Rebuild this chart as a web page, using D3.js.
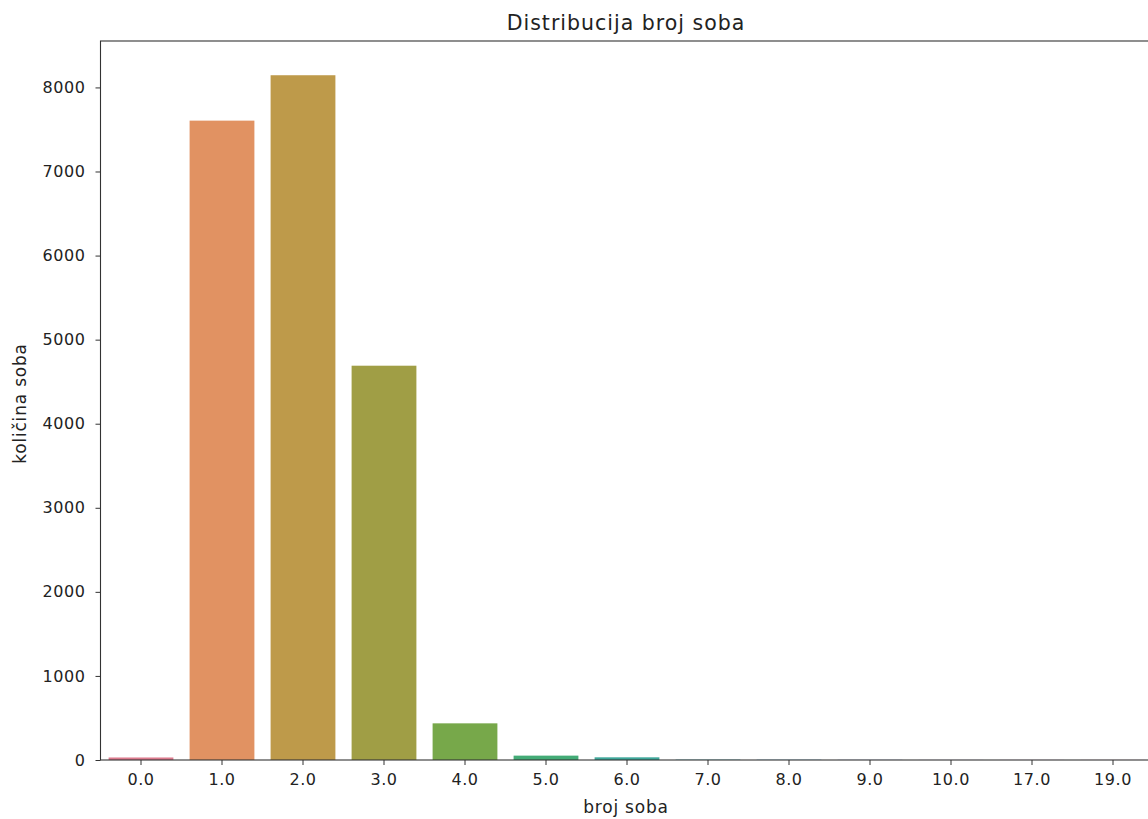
<!DOCTYPE html>
<html>
<head>
<meta charset="utf-8">
<script src="https://cdn.jsdelivr.net/npm/d3@7"></script>
<style>
  html, body { margin: 0; padding: 0; background: #fff; overflow: hidden; }
  svg { display: block; font-family: "DejaVu Sans", sans-serif; }
</style>
</head>
<body>
<svg id="chart" width="1148" height="819"></svg>
<script>
const categories = ["0.0","1.0","2.0","3.0","4.0","5.0","6.0","7.0","8.0","9.0","10.0","17.0","19.0"];
const counts = [30, 7605, 8145, 4690, 436, 52, 32, 4, 3, 2, 1, 1, 1];
const colors = ["#dc7b8e","#e19262","#be9a4a","#a09e45","#77a84a","#43ab76","#3fa79a","#41a5b0","#49a0c6","#7793d6","#a487d7","#c97bcd","#d878ab"];
const yTicks = [0, 1000, 2000, 3000, 4000, 5000, 6000, 7000, 8000];

const svg = d3.select("#chart");
const mLeft = 100.5, mTop = 41, mBottom = 760, mRight = 1153.5;

const x = d3.scaleBand().domain(categories).range([mLeft, mRight]).paddingInner(0.2).paddingOuter(0.1);
const yMax = d3.max(counts) * 1.05;
const y = d3.scaleLinear().domain([0, yMax]).range([mBottom, mTop]);

svg.append("g").selectAll("rect").data(categories).join("rect")
  .attr("x", d => x(d))
  .attr("width", x.bandwidth())
  .attr("y", (d, i) => y(counts[i]))
  .attr("height", (d, i) => mBottom - y(counts[i]))
  .attr("fill", (d, i) => colors[i]);

const xAxis = svg.append("g").attr("transform", `translate(0,${mBottom})`)
  .call(d3.axisBottom(x).tickSize(5).tickPadding(12));
const yAxis = svg.append("g").attr("transform", `translate(${mLeft},0)`)
  .call(d3.axisLeft(y).tickValues(yTicks).tickSize(5).tickPadding(10).tickFormat(d3.format("d")));

[xAxis, yAxis].forEach(g => {
  g.select(".domain").remove();
  g.selectAll(".tick line").attr("stroke", "#333").attr("stroke-width", 1);
  g.selectAll(".tick text").attr("fill", "#222").style("font-size", "16px")
    .style("letter-spacing", "0.6px").style("font-family", "DejaVu Sans, sans-serif");
});
xAxis.selectAll(".tick text").attr("dy", "0.5em");

// spines
svg.append("rect").attr("x", mLeft).attr("y", mTop).attr("width", mRight - mLeft).attr("height", mBottom - mTop)
  .attr("fill", "none").attr("stroke", "#333").attr("stroke-width", 1.1);

svg.append("text").attr("x", 626).attr("y", 30).attr("text-anchor", "middle")
  .style("font-size", "20.5px").style("letter-spacing", "1px").attr("fill", "#222").text("Distribucija broj soba");
svg.append("text").attr("x", 626).attr("y", 813).attr("text-anchor", "middle")
  .style("font-size", "17px").style("letter-spacing", "0.8px").attr("fill", "#222").text("broj soba");
svg.append("text").attr("transform", `translate(26,${(mTop + mBottom) / 2 + 3}) rotate(-90)`).attr("text-anchor", "middle")
  .style("font-size", "17px").style("letter-spacing", "0.8px").attr("fill", "#222").text("količina soba");
</script>
</body>
</html>
